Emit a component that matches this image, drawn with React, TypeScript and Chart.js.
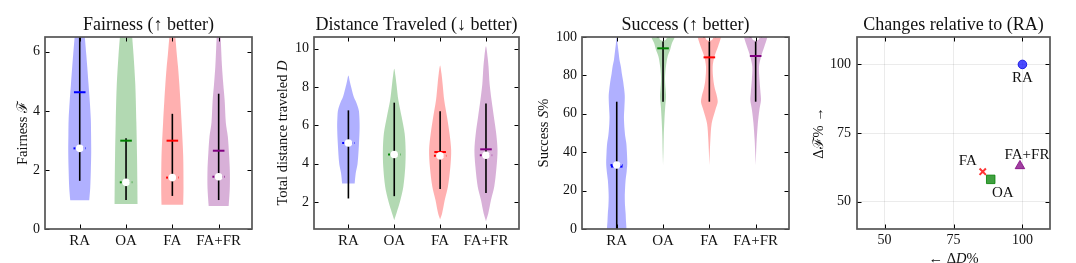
import React, { useEffect, useRef } from "react";
import { Chart, registerables } from "chart.js";

Chart.register(...registerables);

const FONT = "'Liberation Serif', 'DejaVu Serif', serif";

// ---------------- data ----------------
const categories = ["RA", "OA", "FA", "FA+FR"];
const categoryPositions = [1, 2, 3, 4];

// Fairness panel
const fairnessTicks = [0, 2, 4, 6];
const fairnessMedians = [2.73, 1.58, 1.74, 1.77];
const fairnessMeans = [4.63, 2.99, 2.99, 2.65];
const fairnessLow = [1.63, 0.98, 1.12, 0.98];
const fairnessHigh = [7.2, 3.07, 3.9, 4.58];
const fairnessViolinRA = [[0.97, 0.205], [1.4, 0.227], [2.0, 0.24], [2.6, 0.248], [3.2, 0.245], [3.7, 0.24], [4.35, 0.216], [4.9, 0.19], [5.5, 0.162], [5.9, 0.142], [6.5, 0.11], [7.0, 0.085], [7.5, 0.06], [8.0, 0.03], [8.5, 0]];
const fairnessViolinOA = [[0.85, 0.248], [1.5, 0.245], [2.5, 0.237], [3.6, 0.223], [4.9, 0.2], [5.9, 0.162], [6.5, 0.133], [7.0, 0.11], [7.5, 0.08], [8.0, 0.05], [8.5, 0]];
const fairnessViolinFA = [[0.82, 0.234], [1.4, 0.241], [2.5, 0.234], [3.6, 0.2], [4.35, 0.173], [4.9, 0.151], [5.5, 0.122], [5.9, 0.097], [6.5, 0.065], [7.0, 0.04], [7.5, 0]];
const fairnessViolinFAFR = [[0.78, 0.216], [1.4, 0.241], [2.0, 0.241], [2.57, 0.223], [3.13, 0.198], [3.6, 0.155], [4.35, 0.13], [4.9, 0.1], [5.5, 0.072], [6.5, 0.043], [7.0, 0.025], [7.5, 0]];

// Distance panel
const distanceTicks = [2, 4, 6, 8, 10];
const distanceMedians = [5.08, 4.48, 4.41, 4.44];
const distanceMeans = [null, null, 4.61, 4.75];
const distanceLow = [2.19, 2.31, 2.68, 2.48];
const distanceHigh = [6.78, 7.18, 6.73, 7.13];
const distanceViolinRA = [[2.97, 0.137], [3.5, 0.16], [4.0, 0.2], [5.0, 0.23], [5.9, 0.245], [6.5, 0.238], [6.8, 0.225], [7.2, 0.17], [7.5, 0.115], [8.0, 0.06], [8.3, 0.03], [8.6, 0]];
const distanceViolinOA = [[1.06, 0], [1.41, 0.047], [2.1, 0.133], [2.8, 0.198], [3.83, 0.24], [4.7, 0.248], [5.57, 0.227], [6.43, 0.162], [7.3, 0.09], [8.17, 0.047], [8.6, 0.025], [8.94, 0]];
const distanceViolinFA = [[1.1, 0], [1.41, 0.043], [2.1, 0.1], [2.8, 0.17], [3.83, 0.223], [4.7, 0.241], [5.57, 0.205], [6.43, 0.151], [7.3, 0.09], [8.17, 0.054], [8.7, 0.03], [9.12, 0]];
const distanceViolinFAFR = [[1.01, 0], [1.41, 0.05], [2.1, 0.108], [2.8, 0.18], [3.83, 0.23], [4.7, 0.252], [5.57, 0.223], [6.43, 0.173], [7.3, 0.122], [8.17, 0.079], [9.03, 0.057], [9.55, 0.036], [10.12, 0]];

// Success panel
const successTicks = [0, 20, 40, 60, 80, 100];
const successMedians = [33.3, 100, 100, 100];
const successMeans = [32.5, 94.1, 89.4, 90.1];
const successLow = [-5, 66.3, 66.3, 66.3];
const successHigh = [66.3, 97.6, 97.6, 97.6];
const successViolinRA = [[-5, 0.2], [0, 0.21], [4, 0.2], [8.2, 0.192], [12, 0.18], [16.8, 0.174], [21, 0.18], [25.5, 0.192], [30, 0.215], [34.2, 0.228], [40, 0.22], [44.6, 0.207], [48, 0.185], [51.6, 0.17], [55, 0.16], [58.5, 0.156], [63, 0.165], [68.9, 0.174], [73, 0.16], [77.6, 0.134], [81, 0.11], [84.5, 0.09], [88, 0.06], [92, 0.04], [96, 0.02], [100, 0]];
const successViolinOA = [[33.3, 0], [40, 0.008], [48.1, 0.015], [56.8, 0.03], [63.7, 0.047], [68.9, 0.065], [73, 0.055], [77.6, 0.043], [81, 0.048], [84.5, 0.062], [89.7, 0.098], [93.2, 0.152], [96.7, 0.192], [99.3, 0.243], [100, 0.25]];
const successViolinFA = [[33.3, 0], [40, 0.01], [46.4, 0.022], [55, 0.05], [62, 0.13], [66, 0.18], [69, 0.165], [73, 0.12], [77.6, 0.087], [84.5, 0.072], [89.7, 0.109], [95, 0.188], [99.3, 0.246], [100, 0.25]];
const successViolinFAFR = [[33.3, 0], [40, 0.01], [46.4, 0.022], [55, 0.047], [62, 0.08], [67, 0.115], [71, 0.105], [77.6, 0.083], [84.5, 0.072], [89.7, 0.116], [95, 0.188], [99.3, 0.246], [100, 0.25]];

// Changes relative to RA panel (order: RA, OA, FA, FA+FR)
const changeTicks = [50, 75, 100];
const changeDistance = [100, 88.5, 85.6, 99.1];
const changeFairness = [100, 58.1, 60.9, 63.0];

// ---------------- styles ----------------
const seriesFill = ["rgba(0,0,255,0.31)", "rgba(0,128,0,0.3)", "rgba(255,0,0,0.31)", "rgba(128,0,128,0.31)"];
const seriesLine = ["#0000ff", "#008000", "#ff0000", "#800080"];
const labelOffsets = [[0, 14], [12, 14], [-15, -11], [7, -11]];

type Seg = [string, boolean];

function outline(profile: number[][], pos: number) {
  const left = profile.map(([y, w]) => ({ x: pos - w, y }));
  const rev = profile.slice().reverse();
  const right = rev.map(([y, w]) => ({ x: pos + w, y }));
  if (rev[0][1] === 0) right.shift();
  return left.concat(right);
}

function drawSegments(ctx: CanvasRenderingContext2D, segs: Seg[], x: number, y: number, size: number) {
  const fonts = segs.map(([, it]) => `${it ? "italic " : ""}${size}px ${FONT}`);
  let total = 0;
  const widths = segs.map(([t], i) => {
    ctx.font = fonts[i];
    const w = ctx.measureText(t).width;
    total += w;
    return w;
  });
  let cx = x - total / 2;
  ctx.textAlign = "left";
  segs.forEach(([t], i) => {
    ctx.font = fonts[i];
    ctx.fillText(t, cx, y);
    cx += widths[i];
  });
}

function makeDecor(cfg: any) {
  return {
    id: "decor",
    afterDraw(chart: any) {
      const ctx = chart.ctx as CanvasRenderingContext2D;
      const a = chart.chartArea;
      const xs = chart.scales.x;
      const ys = chart.scales.y;
      ctx.save();
      // inward ticks
      ctx.strokeStyle = "#000";
      ctx.lineWidth = 1;
      ctx.beginPath();
      xs.ticks.forEach((t: any) => {
        const px = Math.round(xs.getPixelForValue(t.value)) + 0.5;
        ctx.moveTo(px, a.bottom);
        ctx.lineTo(px, a.bottom - 4.5);
        ctx.moveTo(px, a.top);
        ctx.lineTo(px, a.top + 4.5);
      });
      ys.ticks.forEach((t: any) => {
        const py = Math.round(ys.getPixelForValue(t.value)) + 0.5;
        ctx.moveTo(a.left, py);
        ctx.lineTo(a.left + 4.5, py);
        ctx.moveTo(a.right, py);
        ctx.lineTo(a.right - 4.5, py);
      });
      ctx.stroke();
      // frame
      ctx.strokeStyle = "#555";
      ctx.lineWidth = 1.7;
      ctx.strokeRect(a.left, a.top, a.right - a.left, a.bottom - a.top);
      // title
      ctx.fillStyle = "#111";
      ctx.textBaseline = "alphabetic";
      drawSegments(ctx, [[cfg.title, false]], (a.left + a.right) / 2, 30, 18);
      // y title
      ctx.save();
      ctx.translate(cfg.yTitleX, (a.top + a.bottom) / 2);
      ctx.rotate(-Math.PI / 2);
      drawSegments(ctx, cfg.yTitle, 0, 0, 14.5);
      ctx.restore();
      if (cfg.xTitle) {
        drawSegments(ctx, cfg.xTitle, (a.left + a.right) / 2, cfg.xTitleY, 14.5);
      }
      if (cfg.pointLabels) {
        ctx.textBaseline = "middle";
        categories.forEach((c, i) => {
          const px = xs.getPixelForValue(changeDistance[i]) + labelOffsets[i][0];
          const py = ys.getPixelForValue(changeFairness[i]) + labelOffsets[i][1];
          drawSegments(ctx, [[c, false]], px, py, 15);
        });
      }
      ctx.restore();
    },
  };
}

function fixedTicks(values: number[]) {
  return (s: any) => {
    s.ticks = values.map((v) => ({ value: v }));
  };
}

function violinConfig(p: any) {
  const datasets: any[] = [];
  categoryPositions.forEach((pos, i) => {
    datasets.push({
      data: outline(p.violins[i], pos),
      showLine: true,
      fill: "shape",
      backgroundColor: seriesFill[i],
      borderColor: "rgba(0,0,0,0)",
      borderWidth: 0,
      pointRadius: 0,
      tension: 0.3,
      order: 10,
      clip: 0,
    });
    datasets.push({
      data: [{ x: pos, y: p.low[i] }, { x: pos, y: p.high[i] }],
      showLine: true,
      borderColor: "#000",
      borderWidth: 1.6,
      pointRadius: 0,
      order: 8,
      clip: 0,
    });
    if (p.means[i] != null) {
      datasets.push({
        data: [{ x: pos, y: p.means[i] }],
        pointStyle: "line",
        pointRadius: 5.8,
        pointBorderColor: seriesLine[i],
        pointBackgroundColor: seriesLine[i],
        pointBorderWidth: 2,
        order: 6,
        clip: 0,
      });
    }
    datasets.push({
      data: [{ x: pos - 0.135, y: p.medians[i] }, { x: pos + 0.135, y: p.medians[i] }],
      showLine: true,
      borderColor: seriesLine[i],
      borderWidth: 2,
      borderDash: [2, 2],
      pointRadius: 0,
      order: 4,
      clip: 0,
    });
    datasets.push({
      data: [{ x: pos, y: p.medians[i] }],
      pointRadius: 3.8,
      pointBackgroundColor: "#fff",
      pointBorderColor: "#fff",
      pointBorderWidth: 0,
      order: 2,
      clip: 0,
    });
  });
  return {
    type: "scatter",
    data: { datasets },
    options: {
      responsive: false,
      animation: false,
      events: [],
      layout: { padding: { left: 0, right: p.padRight, top: 37, bottom: 0 } },
      plugins: { legend: { display: false }, tooltip: { enabled: false }, title: { display: false } },
      scales: {
        x: {
          type: "linear",
          position: "bottom",
          min: 0.25,
          max: 4.72,
          grid: { display: false, drawTicks: false },
          border: { display: false },
          afterBuildTicks: fixedTicks(categoryPositions),
          afterFit: (s: any) => {
            s.height = 34;
          },
          ticks: {
            autoSkip: false,
            maxRotation: 0,
            padding: 3,
            color: "#111",
            font: { family: FONT, size: 15 },
            callback: (v: any) => categories[Math.round(v) - 1] ?? "",
          },
        },
        y: {
          type: "linear",
          position: "left",
          min: p.yMin,
          max: p.yMax,
          grid: { display: false, drawTicks: false },
          border: { display: false },
          afterBuildTicks: fixedTicks(p.yTicks),
          afterFit: (s: any) => {
            s.width = p.yWidth;
          },
          ticks: { padding: 5, color: "#111", font: { family: FONT, size: 14 } },
        },
      },
    },
    plugins: [makeDecor({ title: p.title, yTitle: p.yTitle, yTitleX: p.yTitleX })],
  };
}

function fairnessConfig() {
  return violinConfig({
    violins: [fairnessViolinRA, fairnessViolinOA, fairnessViolinFA, fairnessViolinFAFR],
    medians: fairnessMedians,
    means: fairnessMeans,
    low: fairnessLow,
    high: fairnessHigh,
    yMin: 0,
    yMax: 6.5,
    yTicks: fairnessTicks,
    yWidth: 45,
    padRight: 13,
    title: "Fairness (↑ better)",
    yTitle: [["Fairness ", false], ["ℱ", false]],
    yTitleX: 27,
  });
}

function distanceConfig() {
  return violinConfig({
    violins: [distanceViolinRA, distanceViolinOA, distanceViolinFA, distanceViolinFAFR],
    medians: distanceMedians,
    means: distanceMeans,
    low: distanceLow,
    high: distanceHigh,
    yMin: 0.6,
    yMax: 10.6,
    yTicks: distanceTicks,
    yWidth: 49,
    padRight: 16,
    title: "Distance Traveled (↓ better)",
    yTitle: [["Total distance traveled ", false], ["D", true]],
    yTitleX: 22,
  });
}

function successConfig() {
  return violinConfig({
    violins: [successViolinRA, successViolinOA, successViolinFA, successViolinFAFR],
    medians: successMedians,
    means: successMeans,
    low: successLow,
    high: successHigh,
    yMin: 0,
    yMax: 100,
    yTicks: successTicks,
    yWidth: 47,
    padRight: 11,
    title: "Success (↑ better)",
    yTitle: [["Success ", false], ["S", true], ["%", false]],
    yTitleX: 13,
  });
}

function changesConfig() {
  const markers = [
    { pointStyle: "circle", pointRadius: 4.3, pointBackgroundColor: "rgba(0,0,255,0.7)", pointBorderColor: "rgba(0,0,220,0.8)", pointBorderWidth: 1 },
    { pointStyle: "rect", pointRadius: 6, pointBackgroundColor: "rgba(0,128,0,0.75)", pointBorderColor: "rgba(0,128,0,0.8)", pointBorderWidth: 1 },
    { pointStyle: "crossRot", pointRadius: 4.5, pointBackgroundColor: "rgba(255,0,0,0.8)", pointBorderColor: "rgba(255,0,0,0.8)", pointBorderWidth: 2 },
    { pointStyle: "triangle", pointRadius: 5.5, pointBackgroundColor: "rgba(128,0,128,0.75)", pointBorderColor: "rgba(128,0,128,0.8)", pointBorderWidth: 1 },
  ];
  const datasets = categories.map((c, i) => ({
    label: c,
    data: [{ x: changeDistance[i], y: changeFairness[i] }],
    ...markers[i],
    clip: 0,
  }));
  return {
    type: "scatter",
    data: { datasets },
    options: {
      responsive: false,
      animation: false,
      events: [],
      layout: { padding: { left: 0, right: 26, top: 37, bottom: 0 } },
      plugins: { legend: { display: false }, tooltip: { enabled: false }, title: { display: false } },
      scales: {
        x: {
          type: "linear",
          position: "bottom",
          min: 40,
          max: 110,
          grid: { display: true, drawTicks: false, color: "rgba(0,0,0,0.1)", lineWidth: 0.8 },
          border: { display: false },
          afterBuildTicks: fixedTicks(changeTicks),
          afterFit: (s: any) => {
            s.height = 34;
          },
          ticks: { autoSkip: false, maxRotation: 0, padding: 3, color: "#111", font: { family: FONT, size: 14 } },
        },
        y: {
          type: "linear",
          position: "left",
          min: 40,
          max: 110,
          grid: { display: true, drawTicks: false, color: "rgba(0,0,0,0.1)", lineWidth: 0.8 },
          border: { display: false },
          afterBuildTicks: fixedTicks(changeTicks),
          afterFit: (s: any) => {
            s.width = 57;
          },
          ticks: { padding: 6, color: "#111", font: { family: FONT, size: 14 } },
        },
      },
    },
    plugins: [
      makeDecor({
        title: "Changes relative to (RA)",
        yTitle: [["Δ", false], ["ℱ", false], ["% →", false]],
        yTitleX: 23,
        xTitle: [["← Δ", false], ["D", true], ["%", false]],
        xTitleY: 263,
        pointLabels: true,
      }),
    ],
  };
}

function ChartCanvas({ make, left, width }: { make: () => any; left: number; width: number }) {
  const ref = useRef<HTMLCanvasElement | null>(null);
  useEffect(() => {
    const chart = new Chart(ref.current as HTMLCanvasElement, make());
    return () => chart.destroy();
  }, []);
  return (
    <canvas
      ref={ref}
      width={width}
      height={263}
      style={{ position: "absolute", left, top: 0, width, height: 263, display: "block" }}
    />
  );
}

export default function App() {
  return (
    <div style={{ position: "absolute", left: 0, top: 0, width: 1076, height: 263, background: "#fff", overflow: "hidden" }}>
      <ChartCanvas make={fairnessConfig} left={0} width={265} />
      <ChartCanvas make={distanceConfig} left={265} width={270} />
      <ChartCanvas make={successConfig} left={535} width={265} />
      <ChartCanvas make={changesConfig} left={800} width={276} />
    </div>
  );
}
